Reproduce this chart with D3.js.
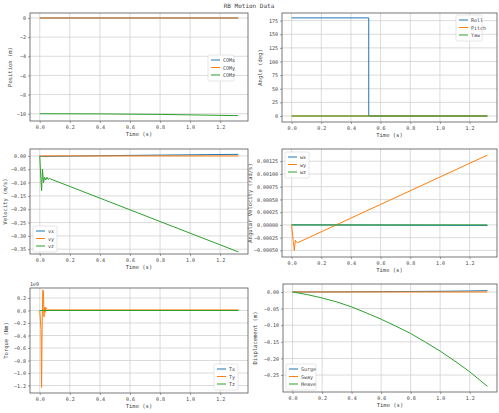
<!DOCTYPE html><html><head><meta charset="utf-8">
<script src="https://cdn.jsdelivr.net/npm/d3@7"></script>
<style>body{margin:0;background:#fff}text{font-family:"DejaVu Sans Mono",monospace;fill:#444}</style></head><body>
<svg id="c" width="499" height="413"></svg>
<script>
const C=["#1f77b4","#ff7f0e","#2ca02c"];
// Position
const posT=[0,1.32];
const comX=[0,0], comY=[0,0];
const comZT=[0,0.4,0.8,1.32], comZ=[-10,-10.02,-10.07,-10.2];
// Angles
const rollT=[0,0.52,0.52,1.32], roll=[180,180,0,0];
const pitchT=[0,1.32], pitch=[0,0], yaw=[0,0];
// Velocity
const vxT=[0,0.01,0.3,0.6,1.32], vx=[0,-0.002,0,0.002,0.006];
const vyT=[0,1.32], vy=[0,0];
const vzT=[0,0.005,0.012,0.018,0.025,0.032,0.04,0.048,0.055,0.065,1.32];
const vz=[0,-0.06,-0.13,-0.05,-0.1,-0.08,-0.09,-0.08,-0.088,-0.085,-0.36];
// Angular velocity
const wxT=[0,1.32], wx=[0,-0.00001];
const wyT=[0,0.01,0.018,0.025,0.03,0.04,1.32], wy=[0,-0.0003,-0.0005,-0.0003,-0.00033,-0.00035,0.00137];
const wzT=[0,1.32], wz=[0,0];
// Torque (1e9)
const tT=[0,0.008,0.012,0.016,0.02,0.024,0.028,0.032,0.036,0.04,0.045,0.05,1.32];
const ty=[0,-0.3,-1.23,-0.2,0.33,0.32,-0.1,0.05,-0.03,0.05,0.02,0.01,0.01];
const txT=[0,1.32], tx=[0,0], tz=[0,0];
// Displacement
const sT=[0,0.1,0.2,0.3,0.4,0.5,0.6,0.7,0.8,0.9,1.0,1.1,1.2,1.32];
const surge=[0,0,0.0001,0.0003,0.0005,0.0007,0.001,0.0012,0.0015,0.0018,0.002,0.0025,0.003,0.004];
const sway=[0,0,0,0,0,0,0,0,0,0,0,0,0,0];
const heave=[0,-0.008,-0.018,-0.03,-0.045,-0.063,-0.082,-0.103,-0.125,-0.151,-0.178,-0.208,-0.24,-0.284];
const xTicks=[0,0.2,0.4,0.6,0.8,1.0,1.2];

const svg=d3.select("#c");
svg.append("text").attr("x",249).attr("y",8).attr("text-anchor","middle").attr("font-size",6).text("RB Motion Data");
function panel(o){
 const g=svg.append("g");
 const x=d3.scaleLinear().domain([-0.065,1.385]).range([o.l,o.r]);
 const y=d3.scaleLinear().domain(o.yd).range([o.b,o.t]);
 const yt=o.yt;
 g.selectAll(".gx").data(xTicks).join("line").attr("x1",d=>x(d)).attr("x2",d=>x(d)).attr("y1",o.t).attr("y2",o.b).attr("stroke","#ccc").attr("stroke-width",0.7);
 g.selectAll(".gy").data(yt).join("line").attr("y1",d=>y(d)).attr("y2",d=>y(d)).attr("x1",o.l).attr("x2",o.r).attr("stroke","#ccc").attr("stroke-width",0.7);
 const ax=g.append("g").attr("transform",`translate(0,${o.b})`).call(d3.axisBottom(x).tickValues(xTicks).tickFormat(d3.format(".1f")).tickSize(2).tickPadding(2));
 const ay=g.append("g").attr("transform",`translate(${o.l},0)`).call(d3.axisLeft(y).tickValues(yt).tickFormat(o.fmt).tickSize(2).tickPadding(2));
 [ax,ay].forEach(a=>{a.select(".domain").remove();a.selectAll("text").attr("font-size",5).style("font-family","DejaVu Sans Mono").attr("fill","#555");a.selectAll("line").attr("stroke","#444").attr("stroke-width",0.5);});
 g.append("rect").attr("x",o.l).attr("y",o.t).attr("width",o.r-o.l).attr("height",o.b-o.t).attr("fill","none").attr("stroke","#555").attr("stroke-width",0.8);
 g.append("text").attr("x",(o.l+o.r)/2).attr("y",o.b+15).attr("text-anchor","middle").attr("font-size",5.5).text("Time (s)");
 g.append("text").attr("transform",`translate(${o.l-(o.yl||22)},${(o.t+o.b)/2}) rotate(-90)`).attr("text-anchor","middle").attr("font-size",5.5).text(o.ylab);
 if(o.off) g.append("text").attr("x",o.l).attr("y",o.t-2).attr("font-size",5).text(o.off);
 const line=d3.line().x(d=>x(d[0])).y(d=>y(d[1]));
 o.series.forEach((s,i)=>{g.append("path").attr("d",line(s.t.map((t,k)=>[t,s.v[k]]))).attr("fill","none").attr("stroke",C[i]).attr("stroke-width",1);});
 const lg=g.append("g").attr("transform",`translate(${o.lg[0]},${o.lg[1]})`);
 const lw=o.lgw||26;
 lg.append("rect").attr("width",lw).attr("height",26).attr("rx",1.5).attr("fill","#fff").attr("fill-opacity",0.85).attr("stroke","#ccc").attr("stroke-width",0.5);
 o.series.forEach((s,i)=>{lg.append("line").attr("x1",3).attr("x2",12).attr("y1",5+i*7.5).attr("y2",5+i*7.5).attr("stroke",C[i]).attr("stroke-width",1);
  lg.append("text").attr("x",15).attr("y",7+i*7.5).attr("font-size",5).text(s.n);});
}
panel({l:30,r:248,t:13,b:121,yd:[-10.76,0.52],yt:[0,-2,-4,-6,-8,-10],fmt:d3.format("d"),ylab:"Position (m)",yl:18,lg:[208,55],
 series:[{n:"COMx",t:posT,v:comX},{n:"COMy",t:posT,v:comY},{n:"COMz",t:comZT,v:comZ}]});
panel({l:282,r:497,t:13,b:122,yd:[-11,189],yt:[0,25,50,75,100,125,150,175],fmt:d3.format("d"),ylab:"Angle (deg)",yl:20,lg:[456,15],
 series:[{n:"Roll",t:rollT,v:roll},{n:"Pitch",t:pitchT,v:pitch},{n:"Yaw",t:pitchT,v:yaw}]});
panel({l:30,r:248,t:149,b:254,yd:[-0.368,0.026],yt:[0,-0.05,-0.1,-0.15,-0.2,-0.25,-0.3,-0.35],fmt:d3.format(".2f"),ylab:"Velocity (m/s)",yl:23,lg:[33,226],lgw:24,
 series:[{n:"vx",t:vxT,v:vx},{n:"vy",t:vyT,v:vy},{n:"vz",t:vzT,v:vz}]});
panel({l:282,r:497,t:149,b:257,yd:[-0.00063,0.00149],yt:[-0.0005,-0.00025,0,0.00025,0.0005,0.00075,0.001,0.00125],fmt:d3.format(".5f"),ylab:"Angular Velocity (rad/s)",yl:30,lg:[285,152],lgw:24,
 series:[{n:"wx",t:wxT,v:wx},{n:"wy",t:wyT,v:wy},{n:"wz",t:wzT,v:wz}]});
panel({l:30,r:248,t:288,b:393,yd:[-1.32,0.36],yt:[0.2,0,-0.2,-0.4,-0.6,-0.8,-1.0,-1.2],fmt:d3.format(".1f"),ylab:"Torque (Nm)",yl:22,lg:[214,364],lgw:24,off:"1e9",
 series:[{n:"Tx",t:txT,v:tx},{n:"Ty",t:tT,v:ty},{n:"Tz",t:txT,v:tz}]});
panel({l:283,r:497,t:284,b:392,yd:[-0.301,0.024],yt:[0,-0.05,-0.1,-0.15,-0.2,-0.25],fmt:d3.format(".2f"),ylab:"Displacement (m)",yl:26,lg:[286,364],lgw:30,
 series:[{n:"Surge",t:sT,v:surge},{n:"Sway",t:sT,v:sway},{n:"Heave",t:sT,v:heave}]});
</script></body></html>
